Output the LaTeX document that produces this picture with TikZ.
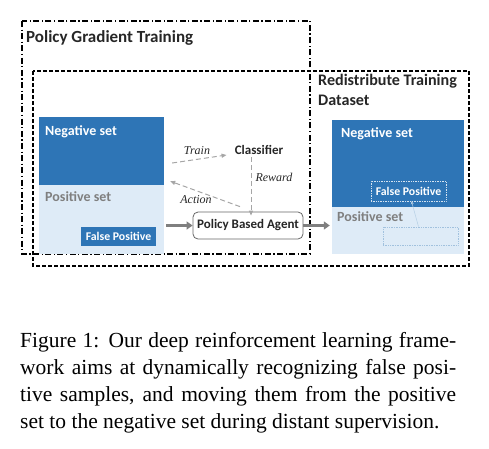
\documentclass[tikz,border=0pt]{standalone}
\usepackage{fontspec}
\setmainfont{Liberation Serif}
\newfontfamily\calfont{Carlito}
\usetikzlibrary{arrows.meta,calc}
\definecolor{dblue}{HTML}{2E75B6}
\definecolor{lblue}{HTML}{DEEBF7}
\definecolor{tgray}{HTML}{7F7F7F}
\definecolor{agray}{HTML}{7F7F7F}
\definecolor{dgray}{HTML}{A6A6A6}
\definecolor{ink}{HTML}{262626}
\tikzset{
  darkbox/.style={fill=dblue,draw=none,inner sep=0pt},
  lightbox/.style={fill=lblue,draw=none,inner sep=0pt},
  lbl/.style={font=\calfont\bfseries\fontsize{13}{15}\selectfont},
  setlbl/.style={font=\calfont\bfseries\fontsize{14}{16}\selectfont,inner sep=0pt,anchor=west},
  fplbl/.style={font=\calfont\bfseries\fontsize{11.8}{14}\selectfont,text=white},
  ital/.style={font=\itshape\fontsize{12}{14}\selectfont,text=ink,inner sep=0pt},
  fat/.style={draw=agray,line width=2.2pt,-{Triangle[length=6pt,width=8pt]}},
  dashar/.style={draw=dgray,line width=1pt,dash pattern=on 5pt off 3pt,-{Triangle[length=5pt,width=4pt]}},
  caplin/.style={anchor=base west,inner sep=0pt,font=\fontsize{21.5}{25}\selectfont}
}
\begin{document}
\begin{tikzpicture}[x=1pt,y=-1pt]
\useasboundingbox (0,0) rectangle (489,448);
% frames
\draw[line width=1.2pt,dash pattern=on 6pt off 2.5pt on 1.2pt off 2.5pt] (22,21) rectangle (310,254);
\draw[line width=1.2pt,dash pattern=on 4pt off 2pt] (33,71) rectangle (469,266);
\node[anchor=west,inner sep=0pt,font=\calfont\bfseries\fontsize{17}{20}\selectfont,text=ink] (pgt) at (26,38) {Policy Gradient Training};
\node[anchor=north west,inner sep=0pt,align=left,font=\calfont\bfseries\fontsize{16.1}{20}\selectfont,text=ink] (rtd) at (318,74) {Redistribute Training\\Dataset};
% left sets
\node[darkbox,minimum width=125pt,minimum height=68pt] (lneg) at (101.5,151) {};
\node[lightbox,minimum width=125pt,minimum height=69pt] (lpos) at (101.5,219.5) {};
\node[setlbl,text=white] (lnegt) at (45,132) {Negative set};
\node[setlbl,text=tgray] (lpost) at (45,197) {Positive set};
\node[darkbox,minimum width=75pt,minimum height=19pt,fplbl] (lfp) at (118.5,236.5) {False Positive};
% agent & classifier
\node[draw=ink!70,line width=0.8pt,rounded corners=5pt,minimum width=110pt,minimum height=27pt,inner sep=0pt,lbl,text=ink] (agent) at (248,225.5) {Policy Based Agent};
\node[lbl,text=ink,inner sep=2pt] (cls) at (259,150) {Classifier};
% right sets
\node[darkbox,minimum width=132pt,minimum height=87pt] (rneg) at (398,163.5) {};
\node[lightbox,minimum width=132pt,minimum height=47pt] (rpos) at (398,230.5) {};
\node[setlbl,text=white] (rnegt) at (341,134) {Negative set};
\node[setlbl,text=tgray] (rpost) at (337,216.5) {Positive set};
\node[draw=white!80!dblue,densely dotted,line width=0.7pt,minimum width=75pt,minimum height=20pt,inner sep=0pt,fplbl] (rfp) at (408.5,191) {False Positive};
\node[draw=dblue!45,densely dotted,line width=0.7pt,minimum width=75pt,minimum height=18pt,inner sep=0pt] (empty) at (420.5,236) {};
% edge labels
\node[ital] (ltrain) at (197,151) {Train};
\node[ital] (laction) at (196,200) {Action};
\node[ital] (lreward) at (274,177) {Reward};
% connectors
\draw[fat] ($(lpos.east |- agent.west)+(2,0)$) -- (agent.west);
\draw[fat] (agent.east) -- ($(rpos.west |- agent.east)+(-2,0)$);
\draw[dashar] ($(lneg.east)+(8,12)$) -- ($(cls.west)+(-6,5)$);
\draw[dashar] ($(agent.north)+(-8,-5)$) -- ($(lneg.south east)+(6,-4)$);
\draw[dashar] ([xshift=-8pt]cls.south) -- ([xshift=-8pt,yshift=-4pt]cls.south |- agent.north);
\draw[draw=dblue!35,line width=0.5pt,-{Stealth[length=3pt,width=3pt]}] ([xshift=-2pt]empty.north) -- ([xshift=3pt]rfp.south);
% caption
\node[caplin] (c1) at (20,347) {\makebox[436pt][s]{Figure 1: Our deep reinforcement learning frame-}};
\node[caplin] (c2) at (20,374) {\makebox[436pt][s]{work aims at dynamically recognizing false posi-}};
\node[caplin] (c3) at (20,401) {\makebox[436pt][s]{tive samples, and moving them from the positive}};
\node[caplin] (c4) at (20,428) {set to the negative set during distant supervision.};
\end{tikzpicture}
\end{document}
